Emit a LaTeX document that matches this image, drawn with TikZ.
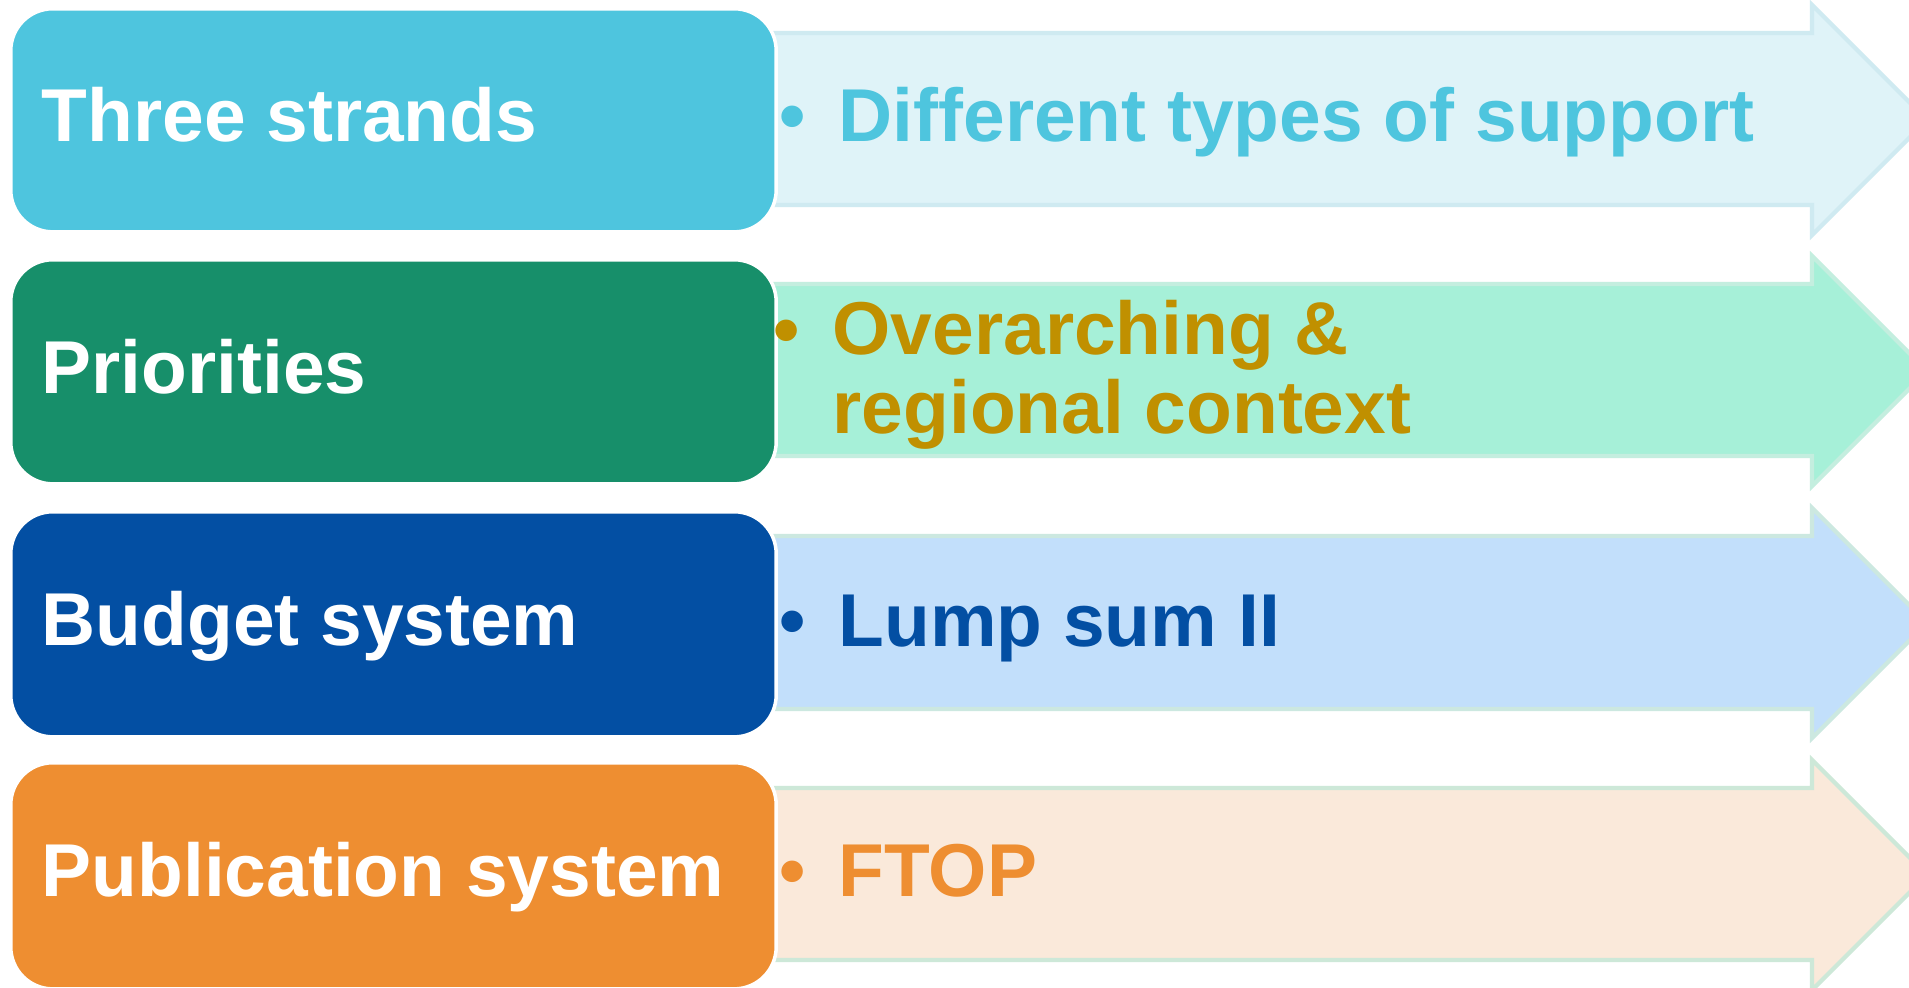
\documentclass[tikz,border=0pt]{standalone}
\usepackage{fontspec}
\setmainfont{Liberation Sans}
\definecolor{cA}{HTML}{4EC5DE}
\definecolor{cAl}{HTML}{DFF3F8}
\definecolor{cAs}{HTML}{CFEAF1}
\definecolor{cB}{HTML}{178F6A}
\definecolor{cBl}{HTML}{A6F0D8}
\definecolor{cBs}{HTML}{C4EEDF}
\definecolor{cBt}{HTML}{C09000}
\definecolor{cC}{HTML}{034FA3}
\definecolor{cCl}{HTML}{C2DFFB}
\definecolor{cCs}{HTML}{CCE8E0}
\definecolor{cD}{HTML}{EE8E31}
\definecolor{cDl}{HTML}{FAE9DA}
\definecolor{cDs}{HTML}{CDE8D8}
\tikzset{
  bigfont/.style={font=\fontsize{21.3}{22.2}\selectfont\bfseries},
  boxlabel/.style={bigfont, text=white, anchor=base west, inner sep=0pt},
  arrowlabel/.style={bigfont, anchor=base west, inner sep=0pt, align=left},
  bulletmark/.style={bigfont, anchor=base, inner sep=0pt},
  roundbox/.style={draw=white, line width=1pt, rounded corners=0.42cm},
  bigarrow/.style={line width=1.2pt, line join=miter},
}
\begin{document}
\begin{tikzpicture}[x=0.01cm, y=-0.01cm]
\clip (0,0) rectangle (1909,988);
\fill[white] (0,0) rectangle (1909,988);
% arrows
\filldraw[bigarrow, fill=cAl, draw=cAs] (760,33) -- (1812,33) -- (1812,5) -- (1927,120) -- (1812,235) -- (1812,205) -- (760,205) -- cycle;
\filldraw[bigarrow, fill=cBl, draw=cBs] (760,284) -- (1812,284) -- (1812,256) -- (1927,371) -- (1812,486) -- (1812,456) -- (760,456) -- cycle;
\filldraw[bigarrow, fill=cCl, draw=cCs] (760,536) -- (1812,536) -- (1812,508) -- (1927,623) -- (1812,738) -- (1812,709) -- (760,709) -- cycle;
\filldraw[bigarrow, fill=cDl, draw=cDs] (760,788) -- (1812,788) -- (1812,760) -- (1927,875) -- (1812,990) -- (1812,960) -- (760,960) -- cycle;
% boxes
\node[roundbox, fill=cA, minimum width=7.65cm, minimum height=2.23cm, anchor=north west] (b1) at (9,7) {};
\node[roundbox, fill=cB, minimum width=7.65cm, minimum height=2.24cm, anchor=north west] (b2) at (9,258) {};
\node[roundbox, fill=cC, minimum width=7.65cm, minimum height=2.25cm, anchor=north west] (b3) at (9,510) {};
\node[roundbox, fill=cD, minimum width=7.65cm, minimum height=2.26cm, anchor=north west] (b4) at (9,761) {};
% box labels
\node[boxlabel] (t1) at (41,142) {Three strands};
\node[boxlabel] (t2) at (41,393) {Priorities};
\node[boxlabel] (t3) at (41,645) {Budget system};
\node[boxlabel] (t4) at (41,896) {Publication system};
% arrow labels
\node[bulletmark, text=cA] (d1) at (793,142) {•};
\node[arrowlabel, text=cA] (a1) at (838,142) {Different types of support};
\node[bulletmark, text=cBt] (d2) at (787,355) {•};
\node[arrowlabel, text=cBt] (a2) at (832,433) {Overarching \&\\regional context};
\node[bulletmark, text=cC] (d3) at (793,646) {•};
\node[arrowlabel, text=cC] (a3) at (838,646) {Lump sum II};
\node[bulletmark, text=cD] (d4) at (793,896) {•};
\node[arrowlabel, text=cD] (a4) at (838,896) {FTOP};
\end{tikzpicture}
\end{document}
